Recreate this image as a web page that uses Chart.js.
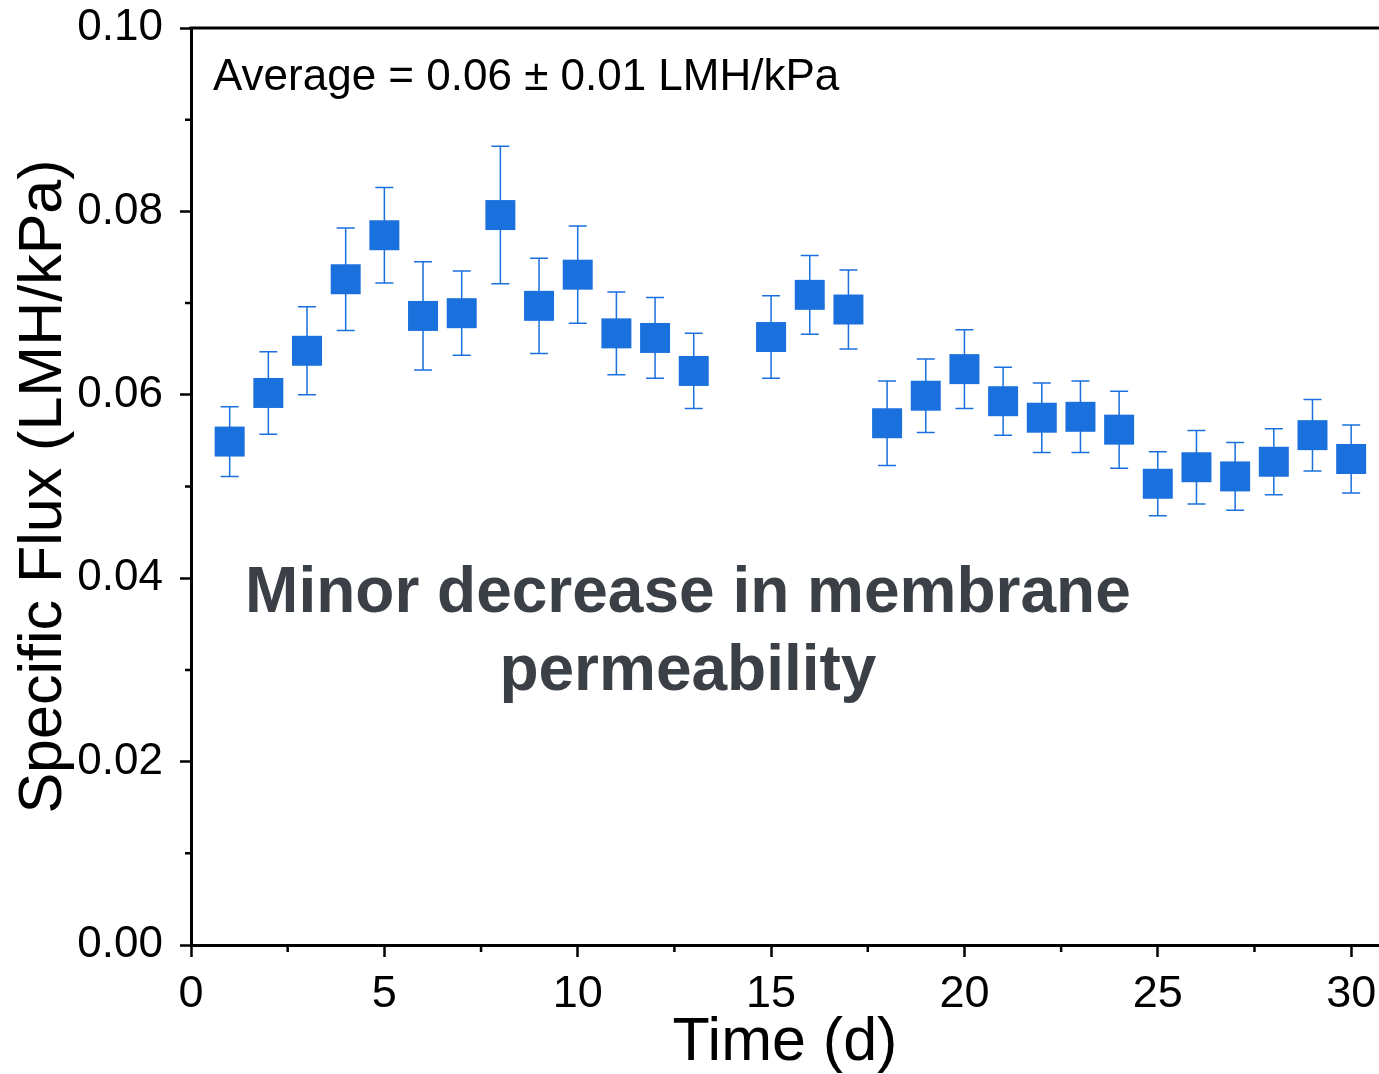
<!DOCTYPE html>
<html>
<head>
<meta charset="utf-8">
<title>Specific Flux</title>
<script src="https://cdn.jsdelivr.net/npm/chart.js@4.4.1/dist/chart.umd.min.js"></script>
<style>
  html, body { margin: 0; padding: 0; background: #fff; }
  canvas { display: block; }
</style>
</head>
<body>
<canvas id="fluxChart" width="1379" height="1074"></canvas>
<script>
// data (day 14 missing)
const days = [1, 2, 3, 4, 5, 6, 7, 8, 9, 10, 11, 12, 13,
    15, 16, 17, 18, 19, 20, 21, 22, 23, 24, 25, 26, 27, 28, 29, 30];
const flux = [0.0549, 0.0602, 0.0648, 0.0726, 0.0774, 0.0686, 0.0689, 0.0796, 0.0697, 0.0731, 0.0667, 0.0662, 0.0626,
    0.0663, 0.0709, 0.0693, 0.0569, 0.0599, 0.0628, 0.0593, 0.0575, 0.0576, 0.0562, 0.0503, 0.0521, 0.0511, 0.0527, 0.0556, 0.0530];
const fluxErr = [0.0038, 0.0045, 0.0048, 0.0056, 0.0052, 0.0059, 0.0046, 0.0075, 0.0052, 0.0053, 0.0045, 0.0044, 0.0041,
    0.0045, 0.0043, 0.0043, 0.0046, 0.0040, 0.0043, 0.0037, 0.0038, 0.0039, 0.0042, 0.0035, 0.0040, 0.0037, 0.0036, 0.0039, 0.0037];

const xTicks = [0, 5, 10, 15, 20, 25, 30];
const xMinorTicks = [2.5, 7.5, 12.5, 17.5, 22.5, 27.5];
const yTicks = [0, 0.02, 0.04, 0.06, 0.08, 0.10];
const yMinorTicks = [0.01, 0.03, 0.05, 0.07, 0.09];

const averageText = 'Average = 0.06 \u00B1 0.01 LMH/kPa';
const noteLines = ['Minor decrease in membrane', 'permeability'];

const FONT = "'Liberation Sans', Arial, sans-serif";
const BLUE = '#1a70dd';

const fluxPlugin = {
    id: 'fluxExtras',
    beforeDatasetsDraw(chart) {
        const ctx = chart.ctx;
        const xs = chart.scales.x, ys = chart.scales.y;
        ctx.save();
        ctx.strokeStyle = BLUE;
        ctx.lineWidth = 1.5;
        days.forEach((d, i) => {
            const px = xs.getPixelForValue(d);
            const top = ys.getPixelForValue(flux[i] + fluxErr[i]);
            const bot = ys.getPixelForValue(flux[i] - fluxErr[i]);
            ctx.beginPath();
            ctx.moveTo(px, top); ctx.lineTo(px, bot);
            ctx.moveTo(px - 9, top); ctx.lineTo(px + 9, top);
            ctx.moveTo(px - 9, bot); ctx.lineTo(px + 9, bot);
            ctx.stroke();
        });
        ctx.restore();
    },
    afterDraw(chart) {
        const ctx = chart.ctx;
        const xs = chart.scales.x, ys = chart.scales.y;
        const area = chart.chartArea;
        ctx.save();
        // top frame line
        ctx.strokeStyle = '#000';
        ctx.lineWidth = 3;
        ctx.beginPath();
        ctx.moveTo(area.left - 1.5, area.top);
        ctx.lineTo(area.right, area.top);
        ctx.stroke();

        // minor ticks
        ctx.lineWidth = 2.5;
        ctx.beginPath();
        xMinorTicks.forEach(v => {
            const px = xs.getPixelForValue(v);
            ctx.moveTo(px, area.bottom); ctx.lineTo(px, area.bottom + 7);
        });
        yMinorTicks.forEach(v => {
            const py = ys.getPixelForValue(v);
            ctx.moveTo(area.left, py); ctx.lineTo(area.left - 6, py);
        });
        ctx.stroke();

        // texts
        ctx.fillStyle = '#000';
        ctx.font = '44px ' + FONT;
        ctx.textAlign = 'left';
        ctx.textBaseline = 'alphabetic';
        ctx.fillText(averageText, xs.getPixelForValue(0.57), ys.getPixelForValue(0.0932));

        ctx.fillStyle = '#3b4046';
        ctx.font = 'bold 64px ' + FONT;
        ctx.textAlign = 'center';
        ctx.fillText(noteLines[0], xs.getPixelForValue(12.85), ys.getPixelForValue(0.0363));
        ctx.fillText(noteLines[1], xs.getPixelForValue(12.85), ys.getPixelForValue(0.0278));
        ctx.restore();
    }
};

new Chart(document.getElementById('fluxChart'), {
    type: 'scatter',
    data: {
        datasets: [{
            label: 'Specific flux',
            data: days.map((d, i) => ({ x: d, y: flux[i] })),
            pointStyle: 'rect',
            pointRadius: 21.2,
            pointBackgroundColor: BLUE,
            pointBorderWidth: 0,
            showLine: false
        }]
    },
    options: {
        responsive: false,
        animation: false,
        layout: { autoPadding: false, padding: { top: 28, right: 0, left: 0, bottom: 0 } },
        plugins: {
            legend: { display: false },
            tooltip: { enabled: false }
        },
        scales: {
            x: {
                type: 'linear',
                min: 0,
                max: 30.72,
                afterBuildTicks: s => { s.ticks = xTicks.map(v => ({ value: v })); },
                afterFit: s => {
                    s.height = 129;
                    s.paddingLeft = 0;
                    s.paddingRight = 0;
                },
                grid: { drawOnChartArea: false, tickLength: 12, tickWidth: 2.5, tickColor: '#000' },
                border: { display: true, color: '#000', width: 3 },
                ticks: {
                    font: { family: FONT, size: 45 },
                    color: '#000',
                    padding: 11,
                    maxRotation: 0,
                    autoSkip: false,
                    callback: v => String(v)
                },
                title: {
                    display: true,
                    text: 'Time (d)',
                    color: '#000',
                    font: { family: FONT, size: 61, lineHeight: 1 },
                    padding: { top: 0, bottom: 0 }
                }
            },
            y: {
                min: 0,
                max: 0.10,
                afterBuildTicks: s => { s.ticks = yTicks.map(v => ({ value: v })); },
                afterFit: s => {
                    s.width = 191;
                    s.paddingTop = 0;
                    s.paddingBottom = 0;
                },
                grid: { drawOnChartArea: false, tickLength: 11, tickWidth: 2.5, tickColor: '#000' },
                border: { display: true, color: '#000', width: 3 },
                ticks: {
                    font: { family: FONT, size: 44 },
                    color: '#000',
                    padding: 17,
                    callback: v => v.toFixed(2)
                },
                title: {
                    display: true,
                    text: 'Specific Flux (LMH/kPa)',
                    color: '#000',
                    font: { family: FONT, size: 61, lineHeight: 1 },
                    padding: { top: 14, bottom: 0 }
                }
            }
        }
    },
    plugins: [fluxPlugin]
});
</script>
</body>
</html>
